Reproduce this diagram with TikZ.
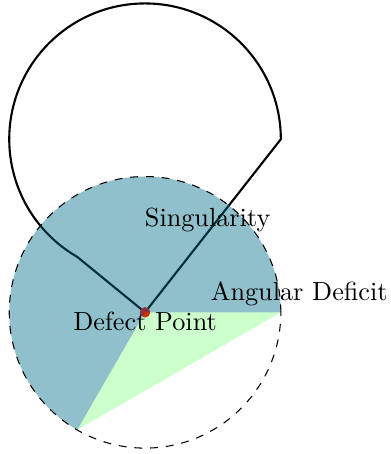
\documentclass[tikz,border=0pt]{standalone}
\usepackage{tikz}
\usetikzlibrary{positioning}
\definecolor{coneblue}{HTML}{006F88}
\tikzset{cone/.style={draw=black,thick},fold/.style={fill=coneblue,fill opacity=.44},deficit/.style={fill=green,fill opacity=.2},rim/.style={draw=black,dashed},tag/.style={anchor=base,inner sep=0pt}}
\begin{document}
\begin{tikzpicture}
\useasboundingbox (-1.944,-1.899) rectangle (3.284,4.186);
\coordinate (defect) at (0,0);
\coordinate (tip) at (1.82,2.32);
\coordinate (rimend) at (240:1.82);
\draw[cone] (defect) -- (tip) arc[start angle=0,end angle=240,radius=1.82] -- cycle;
\fill[red] (defect) circle[radius=2pt];
\fill[fold] (defect) -- (1.82,0) arc[start angle=0,end angle=240,radius=1.82] -- cycle;
\fill[deficit] (defect) -- (1.82,0) -- (rimend) -- cycle;
\draw[rim] (defect) circle[radius=1.82];
\node[tag] (sing) at (0.839,1.147) {Singularity};
\node[tag] (defpt) at (0,-0.25) {Defect Point};
\node[tag] (gap) at (2.067,0.155) {Angular Deficit};
\end{tikzpicture}
\end{document}
